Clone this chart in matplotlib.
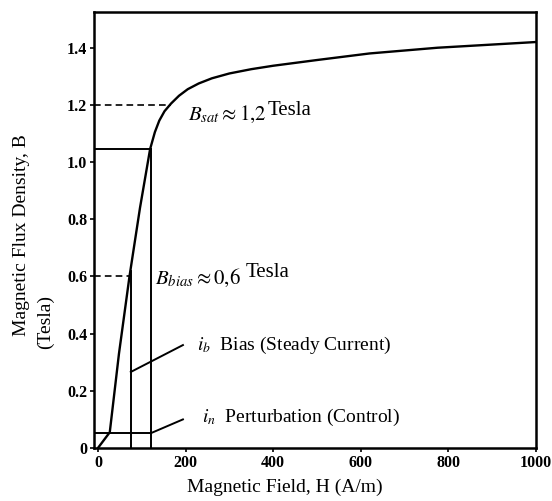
import matplotlib
matplotlib.use('Agg')
import matplotlib.pyplot as plt

plt.rcParams['font.family'] = ['Liberation Serif', 'DejaVu Serif']
plt.rcParams['mathtext.fontset'] = 'stix'

# B-H magnetisation curve
H_curve = [0, 27, 48, 72, 96, 119, 130, 140, 152, 167, 185, 205, 230, 260, 300, 350, 400, 500, 620, 775, 1000]
B_curve = [0, 0.055, 0.33, 0.6, 0.84, 1.045, 1.105, 1.145, 1.178, 1.205, 1.232, 1.255, 1.275, 1.293, 1.31, 1.325, 1.337, 1.357, 1.38, 1.40, 1.42]

# operating points
bias_H, bias_B = 75, 0.6
sat_H, sat_B = 167, 1.2
top_H, top_B = 121, 1.045
pert_B = 0.052

x_ticks = [0, 200, 400, 600, 800, 1000]
x_tick_labels = ['0', '200', '400', '600', '800', '1000']
y_ticks = [0, 0.2, 0.4, 0.6, 0.8, 1.0, 1.2, 1.4]
y_tick_labels = ['0', '0.2', '0.4', '0.6', '0.8', '1.0', '1.2', '1.4']

fig = plt.figure(figsize=(5.52, 5.01), dpi=100)
ax = fig.add_axes([94 / 552, 53 / 501, 442 / 552, 436 / 501])

ax.plot(H_curve, B_curve, color='black', lw=1.7, solid_joinstyle='round')

# helper lines
ax.plot([-9, sat_H], [sat_B, sat_B], color='black', lw=1.2, ls=(0, (4, 2.5)))
ax.plot([-9, 72], [bias_B, bias_B], color='black', lw=1.2, ls=(0, (4, 2.5)))
ax.plot([bias_H, bias_H], [0, 0.62], color='black', lw=1.4)
ax.plot([-9, top_H], [top_B, top_B], color='black', lw=1.4)
ax.plot([top_H, top_H], [0, top_B], color='black', lw=1.4)
ax.plot([-9, top_H], [pert_B, pert_B], color='black', lw=1.4)

# leaders
ax.plot([bias_H, 194], [0.266, 0.36], color='black', lw=1.4)
ax.plot([top_H, 194], [pert_B, 0.10], color='black', lw=1.4)

# annotations
ax.text(205, 1.165, r'$B_{sat} \approx 1{,}2$', fontsize=15, va='center')
ax.text(388, 1.18, 'Tesla', fontsize=15, va='center')
ax.text(130, 0.595, r'$B_{bias} \approx 0{,}6$', fontsize=15, va='center')
ax.text(336, 0.615, 'Tesla', fontsize=15, va='center')
ax.text(226, 0.36, r'$i_b$  Bias (Steady Current)', fontsize=14, va='center')
ax.text(238, 0.108, r'$i_n$  Perturbation (Control)', fontsize=14, va='center')

ax.set_xlim(-9, 1000)
ax.set_ylim(0, 1.525)
ax.set_xticks(x_ticks)
ax.set_xticklabels(x_tick_labels, fontweight='bold', fontsize=11.5)
ax.set_yticks(y_ticks)
ax.set_yticklabels(y_tick_labels, fontweight='bold', fontsize=11.5)
ax.tick_params(direction='out', length=3, width=1.2, pad=2)

for spine in ax.spines.values():
    spine.set_linewidth(1.8)

fig.text(285 / 552, 1 - 487 / 501, 'Magnetic Field, H (A/m)', fontsize=14, ha='center', va='center')
fig.text(22 / 552, 1 - 235 / 501, 'Magnetic Flux Density, B', fontsize=14, rotation=90, ha='center', va='center')
fig.text(45 / 552, 1 - 322 / 501, '(Tesla)', fontsize=14, rotation=90, ha='center', va='center')

fig.savefig('out.png', dpi=100)
